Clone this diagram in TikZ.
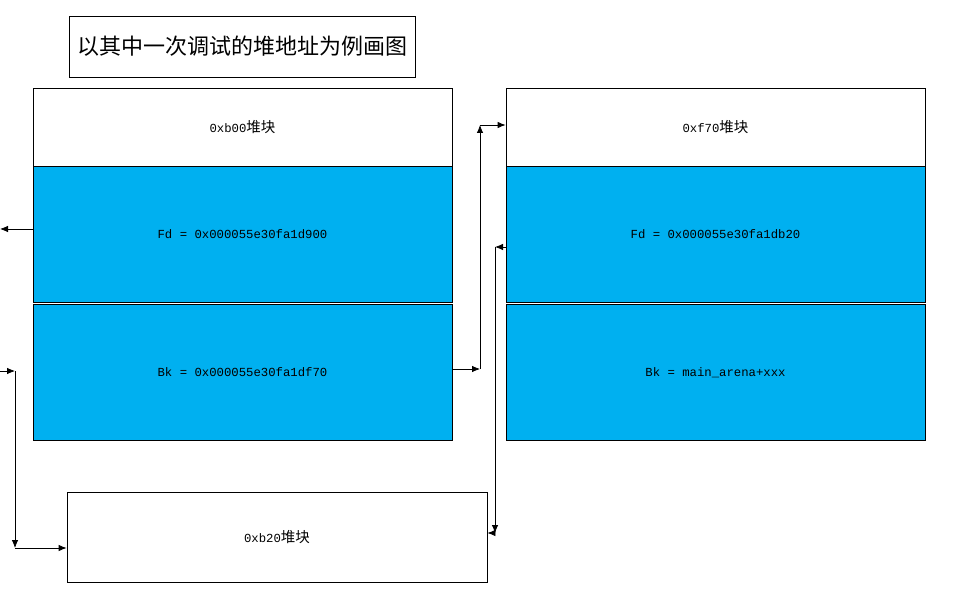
\documentclass[tikz,border=0pt]{standalone}
\usepackage{fontspec}
\setmonofont{Liberation Mono}
\newfontfamily\cjk{Noto Sans CJK SC}
\usepackage{xcolor}
\usetikzlibrary{arrows.meta, positioning, calc}
\definecolor{chunkblue}{HTML}{00B0F0}

\tikzset{
  chunk/.style={draw, line width=0.8pt, minimum width=419pt, inner sep=0pt,
    font=\fontsize{12.3}{14}\selectfont\ttfamily},
  hdr/.style={chunk, minimum height=78pt},
  field/.style={chunk, fill=chunkblue, minimum height=136pt},
  link/.style={line width=0.8pt, -{Latex[length=8pt,width=6.5pt]}},
}
\newcommand{\dui}{{\cjk\fontsize{14.5}{16}\selectfont 堆块}}

\begin{document}
\begin{tikzpicture}[x=1pt,y=1pt]
    \useasboundingbox (0,0) rectangle (973,-601);

    % titolo
    \node[draw, line width=0.8pt, minimum width=346pt, minimum height=61pt, inner sep=0pt,
      font=\cjk\fontsize{22}{26}\selectfont] (title) at (242,-46.5) {以其中一次调试的堆地址为例画图};

    % chunk 0xb00
    \node[hdr] (b00) at (242.5,-127) {0xb00\dui};
    \node[field] (b00fd) at (242.5,-234) {Fd = 0x000055e30fa1d900};
    \node[field] (b00bk) at (242.5,-372.5) {Bk = 0x000055e30fa1df70};

    % chunk 0xf70
    \node[hdr] (f70) at (715.5,-127) {0xf70\dui};
    \node[field] (f70fd) at (715.5,-234) {Fd = 0x000055e30fa1db20};
    \node[field] (f70bk) at (715.5,-372.5) {Bk = main\_arena+xxx};

    % chunk 0xb20
    \node[chunk, minimum width=420pt, minimum height=90pt] (b20) at (277,-537) {0xb20\dui};

    % punti di piega
    \coordinate (fdout) at (0,-229);
    \coordinate (bkin) at (0,-371);
    \coordinate (lbend) at (15,-371);
    \coordinate (lbot) at (15,-548);
    \coordinate (mbend) at (480,-369);
    \coordinate (mtop) at (480,-125);
    \coordinate (rbend) at (495,-247);
    \coordinate (rbot) at (495,-533);

    \draw[link] (b00fd.west |- fdout) -- (fdout);

    \draw[link] (bkin) -- (lbend);
    \draw[link] (lbend) -- (lbot);
    \draw[link] (lbot) -- (b20.west |- lbot);

    \draw[link] (b00bk.east |- mbend) -- (mbend);
    \draw[link] (mbend) -- (mtop);
    \draw[link] (mtop) -- (f70.west |- mtop);

    \draw[link] (f70fd.west |- rbend) -- (rbend);
    \draw[link] (rbend) -- (rbot);
    \draw[link] (rbot) -- (b20.east |- rbot);
  \end{tikzpicture}
\end{document}
